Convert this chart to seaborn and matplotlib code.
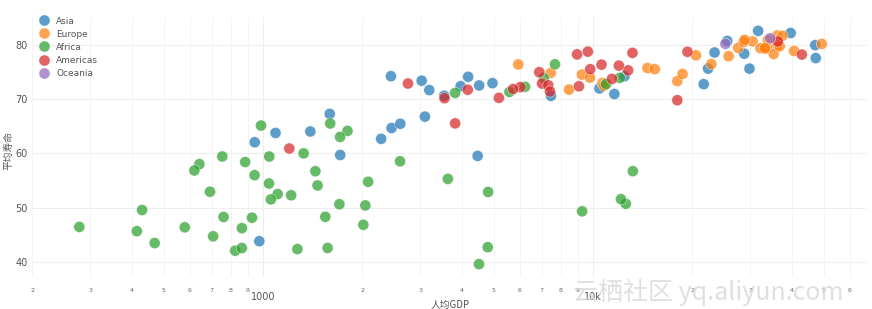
import numpy as np
import pandas as pd
import matplotlib
matplotlib.use("Agg")
import matplotlib.pyplot as plt
import seaborn as sns
from matplotlib.ticker import FixedLocator

# ---- data (GDP per capita, life expectancy) ----
asia_gdp = [974.58, 29796.05, 1391.25, 1713.78, 4959.11, 39724.98, 2452.21, 3540.65,
            11605.71, 4471.06, 25523.28, 31656.07, 4519.46, 1593.07, 23348.14, 47306.99,
            10461.06, 12451.66, 3095.77, 944.0, 1091.36, 22316.19, 2605.95, 3190.48,
            21654.83, 47143.18, 3970.10, 4184.55, 28718.28, 7458.40, 2441.58, 3025.35, 2280.77]
asia_life = [43.83, 75.64, 64.06, 59.72, 72.96, 82.21, 64.70, 70.65,
             70.96, 59.55, 80.75, 82.60, 72.54, 67.30, 78.62, 77.59,
             71.99, 74.24, 66.80, 62.07, 63.79, 75.64, 65.48, 71.69,
             72.78, 79.97, 72.40, 74.14, 78.40, 70.62, 74.25, 73.42, 62.70]

europe_gdp = [5937.03, 36126.49, 33692.61, 7446.30, 10680.79, 14619.22, 22833.31, 35278.42,
              33207.08, 30470.02, 32170.37, 27538.41, 18008.94, 36180.79, 40676.0, 28569.72,
              9253.90, 36797.93, 49357.19, 15389.92, 20509.65, 10808.48, 9786.53, 18678.31,
              25768.26, 28821.06, 33859.75, 37506.42, 8458.28, 33203.26]
europe_life = [76.42, 79.83, 79.44, 74.85, 73.01, 75.75, 76.49, 78.33,
               79.31, 80.66, 79.41, 79.48, 73.34, 81.76, 78.89, 80.55,
               74.54, 79.76, 80.20, 75.56, 78.10, 72.48, 74.00, 74.66,
               77.93, 80.94, 80.88, 81.70, 71.78, 79.43]

africa_gdp = [6223.37, 4797.23, 1441.28, 12569.85, 1217.03, 430.07, 2042.10, 706.02,
              1704.06, 986.15, 277.55, 3632.56, 1544.75, 2082.48, 5581.18, 12154.09,
              641.37, 690.81, 13206.48, 752.75, 1327.61, 942.65, 579.23, 1463.25,
              1569.33, 414.51, 12057.50, 1044.77, 759.35, 1042.58, 1803.15, 10956.99,
              3820.18, 823.69, 4811.06, 619.68, 2013.98, 7670.12, 863.09, 1598.44,
              1712.47, 862.54, 926.14, 9269.66, 2602.39, 4513.48, 1107.48, 882.97,
              7092.92, 1056.38, 1271.21, 469.71]
africa_life = [72.30, 42.73, 56.73, 50.73, 52.30, 49.58, 50.43, 44.74,
               50.65, 65.15, 46.46, 55.32, 48.33, 54.79, 71.34, 51.58,
               58.04, 52.95, 56.74, 59.45, 60.02, 56.01, 46.39, 54.11,
               42.59, 45.68, 73.95, 59.44, 48.30, 54.47, 64.16, 72.80,
               71.16, 42.08, 52.91, 56.87, 46.86, 76.44, 46.24, 65.53,
               63.06, 42.57, 48.16, 49.34, 58.56, 39.61, 52.52, 58.42,
               73.92, 51.54, 42.38, 43.49]

americas_gdp = [12779.38, 3822.14, 9065.80, 36319.24, 13171.64, 7006.58, 9645.06, 8948.10,
                6025.37, 6873.26, 5728.35, 5186.05, 1201.64, 3548.33, 7320.88, 11977.57,
                2749.32, 9809.19, 4172.84, 7408.91, 19328.71, 18008.51, 42951.65, 10611.46,
                11415.81]
americas_life = [75.32, 65.55, 72.39, 80.65, 78.55, 72.89, 78.78, 78.27,
                 72.24, 74.99, 71.88, 70.26, 60.92, 70.20, 72.57, 76.20,
                 72.90, 75.54, 71.75, 71.42, 78.75, 69.82, 78.24, 76.38,
                 73.75]

oceania_gdp = [34435.37, 25185.01]
oceania_life = [81.24, 80.20]

continents = ["Asia", "Europe", "Africa", "Americas", "Oceania"]
x_label = "人均GDP"
y_label = "平均寿命"
y_ticks = [40, 50, 60, 70, 80]
major_x_ticks = [1000, 10000]
major_x_labels = ["1000", "10k"]
watermark = "云栖社区 yq.aliyun.com"

frames = []
for name, g, l in zip(continents,
                      [asia_gdp, europe_gdp, africa_gdp, americas_gdp, oceania_gdp],
                      [asia_life, europe_life, africa_life, americas_life, oceania_life]):
    frames.append(pd.DataFrame({"gdp": g, "life": l, "continent": name}))
df = pd.concat(frames, ignore_index=True)

# ---- figure ----
W, H = 872, 309
fig = plt.figure(figsize=(W / 100, H / 100), dpi=100)
L, R, T, B = 32, 866, 17, 277
ax = fig.add_axes([L / W, 1 - B / H, (R - L) / W, (B - T) / H])

palette = ["#1f77b4", "#ff7f0e", "#2ca02c", "#d62728", "#9467bd"]
sns.scatterplot(data=df, x="gdp", y="life", hue="continent", hue_order=continents,
                palette=palette, s=64, alpha=0.72, edgecolor="white", linewidth=0.4,
                ax=ax, zorder=3)
ax.set_xscale("log")

# axis ranges from pixel calibration (1000 -> px 263, 330 px/decade; 80 -> px 45, 5.425 px/unit)
ax.set_xlim(10 ** (3 + (L - 263) / 330), 10 ** (3 + (R - 263) / 330))
ax.set_ylim(40 - (B - 262) / 5.425, 80 + (45 - T) / 5.425)

for s in ax.spines.values():
    s.set_visible(False)

# x ticks: small minor digits, larger decade labels
minor_pos, minor_lab = [], []
for dec in [100, 1000, 10000]:
    for m in range(2, 10):
        v = m * dec
        if ax.get_xlim()[0] <= v <= ax.get_xlim()[1]:
            minor_pos.append(v)
            minor_lab.append(str(m))
ax.xaxis.set_major_locator(FixedLocator(major_x_ticks))
ax.set_xticklabels(major_x_labels)
ax.xaxis.set_minor_locator(FixedLocator(minor_pos))
ax.set_xticklabels(minor_lab, minor=True)
ax.tick_params(axis="x", which="major", length=0, pad=11, labelsize=7, labelcolor="#555555")
ax.tick_params(axis="x", which="minor", length=0, pad=8, labelsize=4.5, labelcolor="#666666")

ax.set_yticks(y_ticks)
ax.tick_params(axis="y", length=0, pad=3, labelsize=7, labelcolor="#555555")

ax.grid(True, which="major", axis="both", color="#eeeeee", linewidth=0.8, zorder=0)
ax.grid(True, which="minor", axis="x", color="#f4f4f4", linewidth=0.7, zorder=0)
ax.set_axisbelow(True)

ax.set_xlabel("")
ax.set_ylabel("")
fig.text(450 / W, 1 - 305 / H, x_label, ha="center", va="center", fontsize=7,
         color="#555555", family=["Noto Sans CJK SC", "DejaVu Sans"])
fig.text(8 / W, 1 - 150 / H, y_label, ha="center", va="center", fontsize=7,
         rotation=90, color="#555555", family=["Noto Sans CJK SC", "DejaVu Sans"])

# legend top-left
sns.move_legend(ax, "upper left", bbox_to_anchor=(30 / W, 1 - 12 / H),
                bbox_transform=fig.transFigure, frameon=False, title=None,
                fontsize=6.5, labelspacing=0.45, handletextpad=0.4, markerscale=1.0,
                borderpad=0)
for t in ax.get_legend().get_texts():
    t.set_color("#555555")

# watermark
fig.text(708 / W, 1 - 292 / H, watermark, ha="center", va="center",
         fontsize=18, color="#d8d8d8", alpha=0.8,
         family=["Noto Sans CJK SC", "DejaVu Sans"], zorder=10)

fig.savefig("out.png", dpi=100, facecolor="white")
